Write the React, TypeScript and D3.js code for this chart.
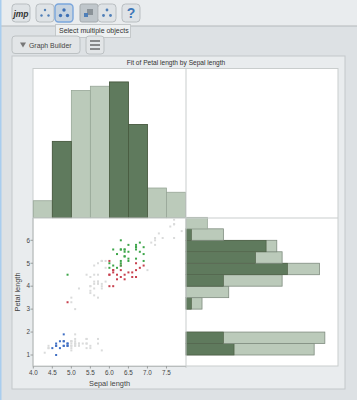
import React from "react";
import * as d3 from "d3";

// Iris values
const setosaSepal = [5.1,4.9,4.7,4.6,5.0,5.4,4.6,5.0,4.4,4.9,5.4,4.8,4.8,4.3,5.8,5.7,5.4,5.1,5.7,5.1,5.4,5.1,4.6,5.1,4.8,5.0,5.0,5.2,5.2,4.7,4.8,5.4,5.2,5.5,4.9,5.0,5.5,4.9,4.4,5.1,5.0,4.5,4.4,5.0,5.1,4.8,5.1,4.6,5.3,5.0];
const setosaPetal = [1.4,1.4,1.3,1.5,1.4,1.7,1.4,1.5,1.4,1.5,1.5,1.6,1.4,1.1,1.2,1.5,1.3,1.4,1.7,1.5,1.7,1.5,1.0,1.7,1.9,1.6,1.6,1.5,1.4,1.6,1.6,1.5,1.5,1.4,1.5,1.2,1.3,1.4,1.3,1.5,1.3,1.3,1.3,1.6,1.9,1.4,1.6,1.4,1.5,1.4];
const versiSepal = [7.0,6.4,6.9,5.5,6.5,5.7,6.3,4.9,6.6,5.2,5.0,5.9,6.0,6.1,5.6,6.7,5.6,5.8,6.2,5.6,5.9,6.1,6.3,6.1,6.4,6.6,6.8,6.7,6.0,5.7,5.5,5.5,5.8,6.0,5.4,6.0,6.7,6.3,5.6,5.5,5.5,6.1,5.8,5.0,5.6,5.7,5.7,6.2,5.1,5.7];
const versiPetal = [4.7,4.5,4.9,4.0,4.6,4.5,4.7,3.3,4.6,3.9,3.5,4.2,4.0,4.7,3.6,4.4,4.5,4.1,4.5,3.9,4.8,4.0,4.9,4.7,4.3,4.4,4.8,5.0,4.5,3.5,3.8,3.7,3.9,5.1,4.5,4.5,4.7,4.4,4.1,4.0,4.4,4.6,4.0,3.3,4.2,4.2,4.2,4.3,3.0,4.1];
const virgSepal = [6.3,5.8,7.1,6.3,6.5,7.6,4.9,7.3,6.7,7.2,6.5,6.4,6.8,5.7,5.8,6.4,6.5,7.7,7.7,6.0,6.9,5.6,7.7,6.3,6.7,7.2,6.2,6.1,6.4,7.2,7.4,7.9,6.4,6.3,6.1,7.7,6.3,6.4,6.0,6.9,6.7,6.9,5.8,6.8,6.7,6.7,6.3,6.5,6.2,5.9];
const virgPetal = [6.0,5.1,5.9,5.6,5.8,6.6,4.5,6.3,5.8,6.1,5.1,5.3,5.5,5.0,5.1,5.3,5.5,6.7,6.9,5.0,5.7,4.9,6.7,4.9,5.7,6.0,4.8,4.9,5.6,5.8,6.1,6.4,5.6,5.1,5.6,6.1,5.6,5.5,4.8,5.4,5.6,5.1,5.1,5.9,5.7,5.2,5.0,5.2,5.4,5.1];

const sepalBinStarts = [4.0,4.5,5.0,5.5,6.0,6.5,7.0,7.5];
const sepalCounts = [4,18,30,31,32,22,7,6];
const sepalSelected = [0,18,0,0,32,22,0,0];

const petalBinStarts = [1.0,1.5,2.0,2.5,3.0,3.5,4.0,4.5,5.0,5.5,6.0,6.5];
const petalCounts = [24,26,0,0,3,8,18,25,18,17,7,4];
const petalSelected = [9,7,0,0,1,0,7,19,13,15,1,0];

const xTicks = [4.0,4.5,5.0,5.5,6.0,6.5,7.0,7.5];
const yTicks = [1,2,3,4,5,6];

const DARK = "#5f7a5d", DARK_S = "#48593f", LIGHT = "#bbcaba", LIGHT_S = "#97a697";
const FONT = "'Liberation Sans', Arial, sans-serif";

const x = d3.scaleLinear().domain([4.0, 8.0]).range([33.3, 185.5]);
const y = d3.scaleLinear().domain([1, 6]).range([355, 240.3]);
const hTop = d3.scaleLinear().domain([0, 32]).range([217.7, 82]);
const hRight = d3.scaleLinear().domain([0, 25]).range([186, 319.5]);

function isSelected(s: number) { return (s >= 4.5 && s < 5) || (s >= 6 && s < 7); }

const Btn = ({ x: bx, y: by, w, h, active }: any) => (
  <rect x={bx} y={by} width={w} height={h} rx={3.5}
    fill={active ? "#c6d3e0" : "#dfe3e6"} stroke={active ? "#7aa6dc" : "#b9bec1"} strokeWidth={active ? 1.4 : 1} />
);
const Dots = ({ cx, cy, c = "#4f7fb8", r = 1.5 }: any) => (
  <g fill={c}>
    <circle cx={cx} cy={cy - 3} r={r} /><circle cx={cx - 3.5} cy={cy + 2.5} r={r} /><circle cx={cx + 3.5} cy={cy + 2.5} r={r} />
  </g>
);

function Points({ sx, py, color }: { sx: number[]; py: number[]; color: string }) {
  return (
    <g>
      {sx.map((s, i) => {
        const sel = isSelected(s);
        return <rect key={i} x={x(s) - 1} y={y(py[i]) - 1} width={2} height={2} fill={sel ? color : "#dadbdb"} />;
      })}
    </g>
  );
}

export default function App() {
  return (
    <svg width={357} height={400} style={{ position: "fixed", left: 0, top: 0, display: "block" }} fontFamily={FONT}>
      <rect width={357} height={400} fill="#dde1e4" />
      <rect width={357} height={26} fill="#e9ecee" />
      <line x1={0} x2={357} y1={26} y2={26} stroke="#b4b9bb" />
      <rect x={0} y={0} width={1.5} height={400} fill="#a9cdee" />

      {/* toolbar */}
      <Btn x={12} y={4} w={18} h={18} />
      <text x={21} y={16.5} textAnchor="middle" fontSize={8.5} fontStyle="italic" fontWeight="bold" fill="#333">jmp</text>
      <Btn x={36} y={4} w={18} h={18} />
      <Dots cx={45} cy={13} r={1.2} />
      <Btn x={55} y={4} w={18} h={18} active />
      <Dots cx={64} cy={13} r={1.7} c="#3d70b5" />
      <rect x={80} y={4} width={18} height={18} rx={2} fill="#bfc6cb" stroke="#a5abae" />
      <rect x={87} y={9} width={6} height={6} fill="#8a9298" /><rect x={84} y={13} width={4} height={4} fill="#4f7fb8" />
      <Btn x={98} y={4} w={18} h={18} />
      <Dots cx={107} cy={13} r={1.4} />
      <Btn x={122} y={4} w={18} h={18} />
      <text x={131} y={18} textAnchor="middle" fontSize={14} fontWeight="bold" fill="#3f78b8">?</text>

      {/* tooltip */}
      <rect x={55.5} y={24.5} width={75} height={13} fill="#edf0f1" stroke="#c4c8ca" />
      <text x={59} y={33} fontSize={7} fill="#333">Select multiple objects</text>

      {/* graph builder */}
      <rect x={12} y={36} width={68} height={17.5} rx={3} fill="#e2e5e7" stroke="#bcc1c3" />
      <path d="M20 42.5 L26 42.5 L23 47.5 Z" fill="#777" />
      <text x={29} y={47.5} fontSize={6.9} fill="#444">Graph Builder</text>
      <rect x={86} y={36} width={18} height={18} rx={3} fill="#e2e5e7" stroke="#bcc1c3" />
      <g stroke="#555" strokeWidth={1.3}>
        <line x1={90} x2={100} y1={41} y2={41} /><line x1={90} x2={100} y1={45} y2={45} /><line x1={90} x2={100} y1={49} y2={49} />
      </g>

      {/* report panel */}
      <rect x={12} y={56} width={333} height={333} fill="#e9ecee" stroke="#c3c8ca" />
      <text x={176} y={64.5} textAnchor="middle" fontSize={6.6} fill="#333">Fit of Petal length by Sepal length</text>
      <rect x={33} y={68.5} width={305} height={297.5} fill="#fff" stroke="#c9cdcd" />

      {/* top histogram */}
      {sepalBinStarts.map((b, i) => (
        <rect key={b} x={x(b)} y={hTop(sepalCounts[i])} width={x(b + 0.5) - x(b)} height={hTop(0) - hTop(sepalCounts[i])}
          fill={LIGHT} stroke={LIGHT_S} strokeWidth={0.8} />
      ))}
      {sepalBinStarts.map((b, i) => sepalSelected[i] > 0 && (
        <rect key={b} x={x(b)} y={hTop(sepalSelected[i])} width={x(b + 0.5) - x(b)} height={hTop(0) - hTop(sepalSelected[i])}
          fill={DARK} stroke={DARK_S} strokeWidth={0.8} />
      ))}

      {/* right histogram */}
      {petalBinStarts.map((b, i) => petalCounts[i] > 0 && (
        <g key={b}>
          <rect x={hRight(0)} y={y(b + 0.5)} width={hRight(petalCounts[i]) - hRight(0)} height={y(b) - y(b + 0.5)}
            fill={LIGHT} stroke={i === 11 ? LIGHT_S : "#7f8c7f"} strokeWidth={0.8} />
          {petalSelected[i] > 0 && (
            <rect x={hRight(0)} y={y(b + 0.5)} width={hRight(petalSelected[i]) - hRight(0)} height={y(b) - y(b + 0.5)}
              fill={DARK} stroke={DARK_S} strokeWidth={0.6} />
          )}
        </g>
      ))}

      {/* dividers */}
      <line x1={186} x2={186} y1={68.5} y2={368} stroke="#c9cdcd" strokeWidth={1} />
      <line x1={33} x2={338} y1={218} y2={218} stroke="#c9cdcd" strokeWidth={1} />

      {/* scatter */}
      <Points sx={setosaSepal} py={setosaPetal} color="#3f6fc4" />
      <Points sx={versiSepal} py={versiPetal} color="#c8404e" />
      <Points sx={virgSepal} py={virgPetal} color="#3da64a" />

      {/* x axis */}
      <line x1={33} x2={186} y1={366.5} y2={366.5} stroke="#b9bdbd" />
      {xTicks.map((t) => (
        <g key={t}>
          <line x1={x(t)} x2={x(t)} y1={366} y2={368.5} stroke="#9a9e9e" />
          <text x={x(t)} y={374.5} textAnchor="middle" fontSize={6.3} fill="#444">{t.toFixed(1)}</text>
        </g>
      ))}
      <text x={109.5} y={386} textAnchor="middle" fontSize={7.4} fill="#444">Sepal length</text>

      {/* y axis */}
      <line x1={33} x2={33} y1={218} y2={366.5} stroke="#b9bdbd" />
      {yTicks.map((t) => (
        <g key={t}>
          <line x1={30.5} x2={33} y1={y(t)} y2={y(t)} stroke="#9a9e9e" />
          <text x={30} y={y(t) + 2.3} textAnchor="end" fontSize={6.3} fill="#444">{t}</text>
        </g>
      ))}
      <text transform="translate(20,292) rotate(-90)" textAnchor="middle" fontSize={7.4} fill="#444">Petal length</text>
    </svg>
  );
}
